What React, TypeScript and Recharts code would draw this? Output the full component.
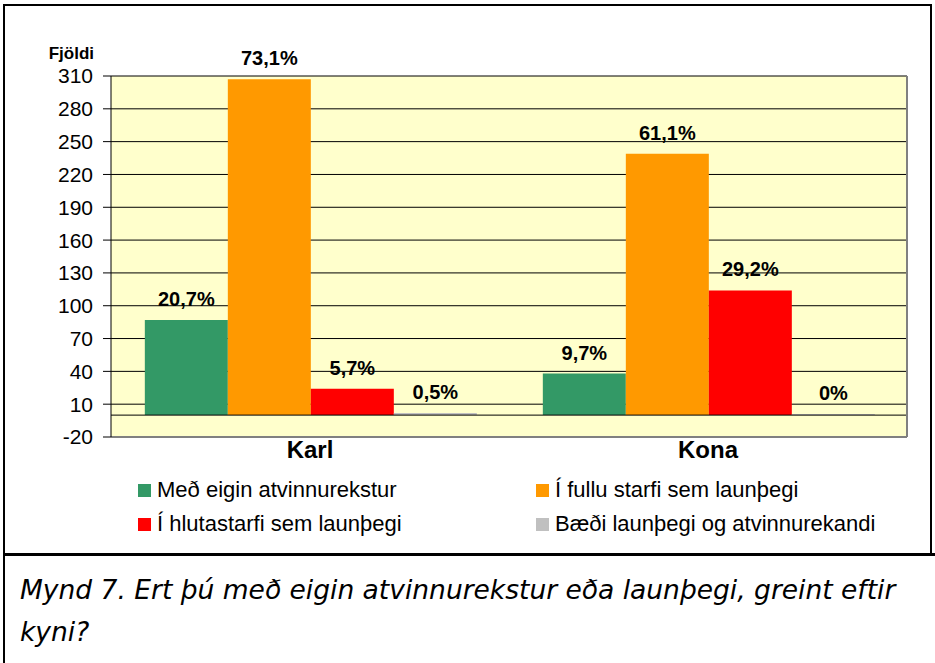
import React from 'react';
import {
    BarChart, Bar, XAxis, YAxis, CartesianGrid, ReferenceLine, LabelList
} from 'recharts';

const CATEGORIES = ['Karl', 'Kona'];

const SERIES_NAMES = [
    'Með eigin atvinnurekstur',
    'Í fullu starfi sem launþegi',
    'Í hlutastarfi sem launþegi',
    'Bæði launþegi og atvinnurekandi',
];

const SERIES_COLORS = ['#339966', '#FF9900', '#FF0000', '#C0C0C0'];

// counts per category (Karl, Kona)
const OWN_BUSINESS = [87, 38];
const FULL_TIME = [307, 239];
const PART_TIME = [24, 114];
const BOTH = [2, 0];

// percent labels shown above the bars
const OWN_BUSINESS_PCT = ['20,7%', '9,7%'];
const FULL_TIME_PCT = ['73,1%', '61,1%'];
const PART_TIME_PCT = ['5,7%', '29,2%'];
const BOTH_PCT = ['0,5%', '0%'];

const Y_TICKS = [-20, 10, 40, 70, 100, 130, 160, 190, 220, 250, 280, 310];

const KEYS = ['s0', 's1', 's2', 's3'];

const DATA = CATEGORIES.map((name, i) => ({
    name,
    s0: OWN_BUSINESS[i], p0: OWN_BUSINESS_PCT[i],
    s1: FULL_TIME[i], p1: FULL_TIME_PCT[i],
    s2: PART_TIME[i], p2: PART_TIME_PCT[i],
    s3: BOTH[i], p3: BOTH_PCT[i],
}));

const ARIAL = 'Arial, "Liberation Sans", sans-serif';

export default function App() {
    return (
        <div style={{ position: 'absolute', left: 0, top: 0, width: 935, height: 663, background: '#fff', fontFamily: ARIAL }}>
            {/* chart box */}
            <div style={{ position: 'absolute', left: 3, top: 4, width: 929, height: 551, border: '2px solid #000', boxSizing: 'border-box' }}>
                <div style={{ position: 'absolute', left: 0, top: 38, width: 89, textAlign: 'right', fontWeight: 'bold', fontSize: 17, lineHeight: '20px', color: '#000' }}>
                    Fjöldi
                </div>
                <div style={{ position: 'absolute', left: 0, top: 0 }}>
                    <BarChart
                        width={925}
                        height={461}
                        data={DATA}
                        margin={{ top: 70, right: 22, bottom: 0, left: 0 }}
                        barCategoryGap="8.5%"
                        barGap={0}
                    >
                        <CartesianGrid vertical={false} stroke="#000" fill="#FFFFCC" fillOpacity={1} />
                        <XAxis
                            dataKey="name"
                            height={30}
                            axisLine={{ stroke: '#808080', strokeWidth: 2 }}
                            tickLine={false}
                            tickSize={0}
                            tickMargin={4}
                            tick={{ fill: '#000', fontSize: 24, fontWeight: 'bold', fontFamily: ARIAL }}
                        />
                        <YAxis
                            domain={[-20, 310]}
                            ticks={Y_TICKS}
                            interval={0}
                            width={106}
                            axisLine={{ stroke: '#000' }}
                            tickLine={{ stroke: '#000' }}
                            tickSize={8}
                            tickMargin={10}
                            tick={{ fill: '#000', fontSize: 21, fontFamily: ARIAL }}
                        />
                        <YAxis
                            yAxisId="right"
                            orientation="right"
                            width={1}
                            tick={false}
                            tickLine={false}
                            axisLine={{ stroke: '#808080', strokeWidth: 2 }}
                        />
                        <ReferenceLine y={0} stroke="#000" strokeWidth={1} />
                        {KEYS.map((k, i) => (
                            <Bar
                                key={k}
                                dataKey={k}
                                name={SERIES_NAMES[i]}
                                fill={SERIES_COLORS[i]}
                                minPointSize={i === 3 ? 1 : 0}
                                isAnimationActive={false}
                            >
                                <LabelList
                                    dataKey={`p${i}`}
                                    position="top"
                                    offset={14}
                                    fill="#000"
                                    style={{ fontSize: 20, fontWeight: 'bold', fontFamily: ARIAL }}
                                />
                            </Bar>
                        ))}
                    </BarChart>
                </div>

                {/* legend */}
                {SERIES_NAMES.map((name, i) => (
                    <div
                        key={name}
                        style={{
                            position: 'absolute',
                            left: i % 2 === 0 ? 133 : 531,
                            top: i < 2 ? 472 : 506,
                            display: 'flex',
                            alignItems: 'center',
                            fontSize: 22,
                            color: '#000',
                            height: 24,
                        }}
                    >
                        <span style={{ display: 'inline-block', width: 13, height: 13, background: SERIES_COLORS[i], marginRight: 6 }} />
                        <span>{name}</span>
                    </div>
                ))}
            </div>

            {/* caption */}
            <div style={{ position: 'absolute', left: 3, top: 553, width: 932, height: 110, borderLeft: '2px solid #000', borderTop: '3px solid #000', boxSizing: 'border-box', padding: '13px 8px 0 15px', fontFamily: 'Verdana, "DejaVu Sans", sans-serif', fontStyle: 'italic', fontSize: 26.5, lineHeight: '42px', color: '#000' }}>
                Mynd 7. Ert þú með eigin atvinnurekstur eða launþegi, greint eftir kyni?
            </div>
        </div>
    );
}
